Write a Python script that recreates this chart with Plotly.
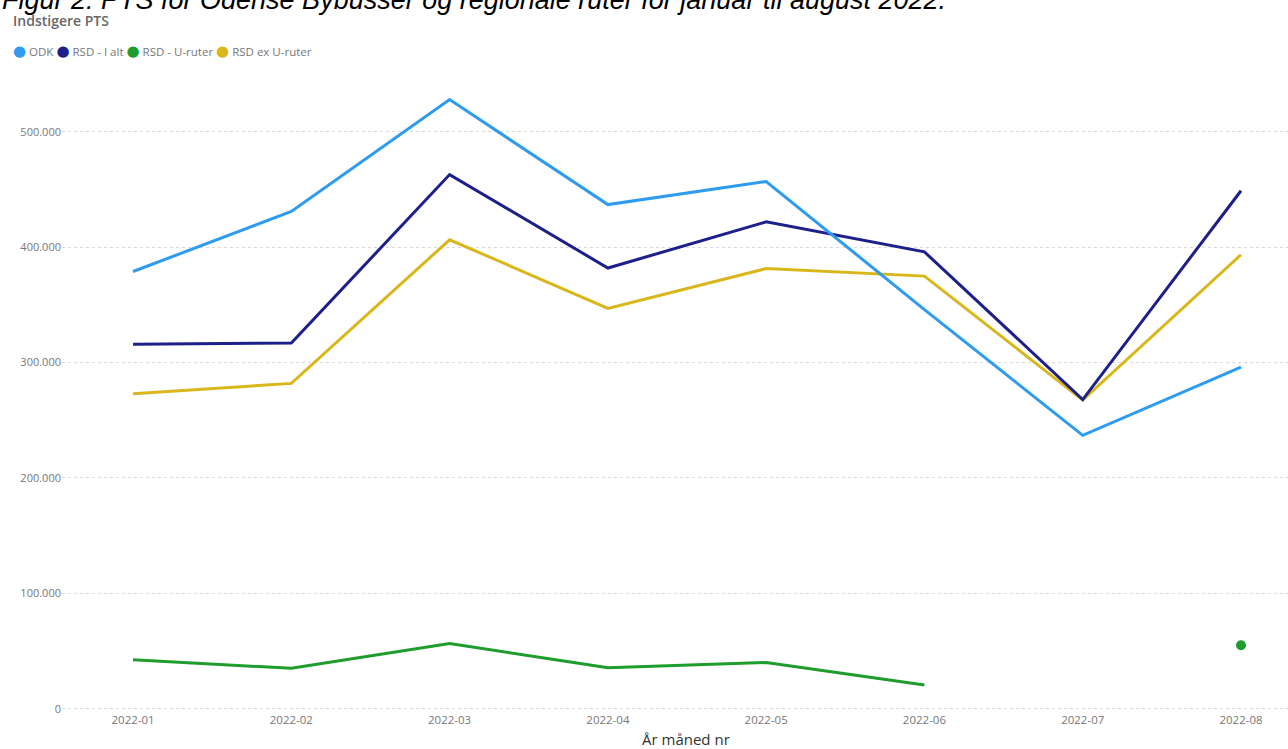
import plotly.graph_objects as go

months = ["2022-01", "2022-02", "2022-03", "2022-04", "2022-05", "2022-06", "2022-07", "2022-08"]
odk = [379000, 431000, 528000, 437000, 457000, 346000, 237000, 296000]
rsd_i_alt = [316000, 317000, 463000, 382000, 422000, 396000, 268000, 449000]
rsd_u_ruter = [42500, 35000, 56500, 35500, 40000, 20500, None, 55000]
rsd_ex_u = [273000, 282000, 406500, 347000, 381500, 375000, 267500, 393500]

series_names = ["ODK", "RSD - I alt", "RSD - U-ruter", "RSD ex U-ruter"]
series_values = [odk, rsd_i_alt, rsd_u_ruter, rsd_ex_u]
colors = ["#2D9CF0", "#1D1F8A", "#1E9C2C", "#D9B61A"]

fig = go.Figure()

# draw order: yellow below dark blue, light blue on top of both
draw_order = [3, 2, 1, 0]
for i in draw_order:
    vals = series_values[i]
    sizes = []
    for k, v in enumerate(vals):
        prev_none = k == 0 or vals[k - 1] is None
        next_none = k == len(vals) - 1 or vals[k + 1] is None
        sizes.append(10 if (v is not None and prev_none and next_none) else 0)
    fig.add_trace(go.Scatter(
        x=months, y=vals, mode="lines+markers", name=series_names[i],
        line=dict(color=colors[i], width=3),
        marker=dict(size=sizes, color=colors[i], opacity=1, line=dict(width=0)),
        showlegend=False, hoverinfo="x+y+name",
    ))

L, T, W, H = 62, 80, 1288, 749
plot_bottom = 711
plot_h = plot_bottom - T

fig.update_layout(
    width=W, height=H,
    margin=dict(l=L, r=0, t=T, b=H - plot_bottom),
    paper_bgcolor="white", plot_bgcolor="white",
    separators=",.",
    font=dict(family="Open Sans, DejaVu Sans, sans-serif", color="#777777", size=11),
    showlegend=False,
)

fig.update_xaxes(
    type="category", categoryorder="array", categoryarray=months,
    range=[-0.449, 7.297], showgrid=False, zeroline=False, showline=False,
    ticks="", tickfont=dict(size=11.5, color="#777777"),
)
fig.update_yaxes(
    range=[-2000, 545000], tickvals=[0, 100000, 200000, 300000, 400000, 500000],
    tickformat=",d", showgrid=True, gridcolor="#D9D9D9", griddash="dot", gridwidth=1,
    zeroline=False, showline=False, ticks="", tickfont=dict(size=11, color="#777777"),
)

# legend row (Power BI style: coloured dot directly before each label)
legend_parts = []
for name, col in zip(series_names, colors):
    legend_parts.append(
        "<span style='color:%s;font-size:15px'>●</span> %s" % (col, name))
legend_text = " ".join(legend_parts)


def px_x(p):
    return (p - L) / (W - L)


def px_y(p):
    return (plot_bottom - p) / plot_h


annotations = [
    dict(text="<i>Figur 2: PTS for Odense Bybusser og regionale ruter for januar til august 2022.</i>",
         xref="paper", yref="paper", x=px_x(0), y=px_y(17),
         xanchor="left", yanchor="bottom", showarrow=False,
         font=dict(family="Liberation Sans, Arial, sans-serif", size=27, color="#000000")),
    dict(text="Indstigere PTS", xref="paper", yref="paper",
         x=px_x(11), y=px_y(21),
         xanchor="left", yanchor="middle", showarrow=False,
         font=dict(family="Open Sans, sans-serif", size=14, color="#666666", weight=600)),
    dict(text=legend_text, xref="paper", yref="paper",
         x=px_x(11), y=px_y(50),
         xanchor="left", yanchor="middle", showarrow=False,
         font=dict(family="Open Sans, DejaVu Sans, sans-serif", size=11.5, color="#777777")),
    dict(text="År måned nr", xref="paper", yref="paper",
         x=px_x(686), y=px_y(739),
         xanchor="center", yanchor="middle", showarrow=False,
         font=dict(family="Open Sans, sans-serif", size=15, color="#333333")),
]
fig.update_layout(annotations=annotations)

fig.write_html("out.html")
